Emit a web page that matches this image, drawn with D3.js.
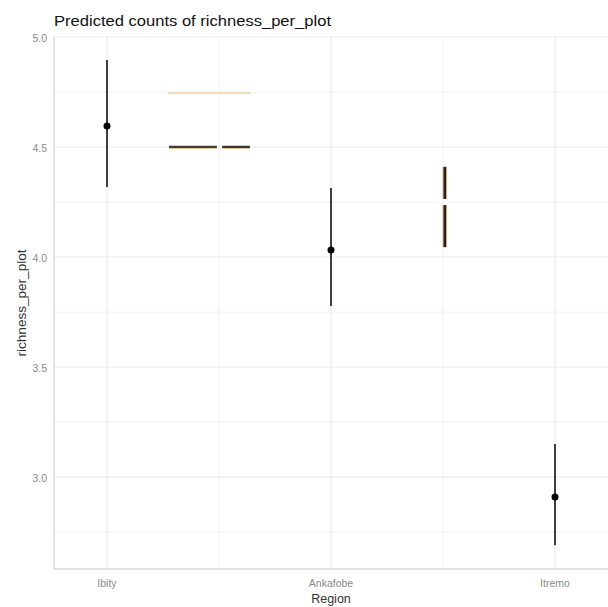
<!DOCTYPE html>
<html lang="en">
<head>
<meta charset="utf-8">
<script src="https://d3js.org/d3.v7.min.js"></script>
<style>
  body { margin: 0; background: #fff; }
  text { font-family: "Liberation Sans", Arial, sans-serif; }
</style>
</head>
<body>
<script>
// predicted values per region
var regions = ["Ibity", "Ankafobe", "Itremo"];
var predicted = [4.595, 4.032, 2.909];
var lower = [4.318, 3.777, 2.69];
var upper = [4.895, 4.314, 3.15];

// stray key glyphs (x in category units, Ibity = 0)
var hBars = [[0.277, 0.49, 4.5], [0.514, 0.638, 4.5]];
var hLine = [[0.272, 0.643, 4.745]];
var vBars = [[1.508, 4.41, 4.264], [1.508, 4.236, 4.045]];

var yTicks = [3.0, 3.5, 4.0, 4.5, 5.0];
var yMinor = [2.75, 3.25, 3.75, 4.25, 4.75];

var width = 608, height = 607;
// note: "top" is taken by window.top, so panel edges get their own names
var panelLeft = 54, panelTop = 37, panelBottom = 569, panelRight = 608;

var svg = d3.select("body").append("svg")
  .attr("width", width)
  .attr("height", height);

// continuous x so the glyphs can sit between categories
var x = d3.scaleLinear().domain([0, 1]).range([107, 331]);
var y = d3.scaleLinear().domain([2.582, 5.0]).range([panelBottom, panelTop]);

var grid = svg.append("g");

// minor grid
grid.selectAll("line.ym").data(yMinor).enter().append("line")
  .attr("x1", panelLeft).attr("x2", panelRight)
  .attr("y1", function(d) { return y(d); }).attr("y2", function(d) { return y(d); })
  .attr("stroke", "#f2f2f2").attr("stroke-width", 1);
grid.selectAll("line.xm").data([0.5, 1.5]).enter().append("line")
  .attr("x1", function(d) { return x(d); }).attr("x2", function(d) { return x(d); })
  .attr("y1", panelTop).attr("y2", panelBottom)
  .attr("stroke", "#f2f2f2").attr("stroke-width", 1);

// major grid
grid.selectAll("line.y").data(yTicks).enter().append("line")
  .attr("x1", panelLeft).attr("x2", panelRight)
  .attr("y1", function(d) { return y(d); }).attr("y2", function(d) { return y(d); })
  .attr("stroke", "#ebebeb").attr("stroke-width", 1.2);
grid.selectAll("line.x").data(regions).enter().append("line")
  .attr("x1", function(d, i) { return x(i); }).attr("x2", function(d, i) { return x(i); })
  .attr("y1", panelTop).attr("y2", panelBottom)
  .attr("stroke", "#ebebeb").attr("stroke-width", 1.2);

// axis lines
svg.append("line").attr("x1", panelLeft).attr("x2", panelLeft).attr("y1", panelTop).attr("y2", panelBottom)
  .attr("stroke", "#c8c8c8").attr("stroke-width", 1);
svg.append("line").attr("x1", panelLeft).attr("x2", panelRight).attr("y1", panelBottom).attr("y2", panelBottom)
  .attr("stroke", "#c8c8c8").attr("stroke-width", 1);

// stray glyphs
svg.selectAll("line.hl").data(hLine).enter().append("line")
  .attr("x1", function(d) { return x(d[0]); }).attr("x2", function(d) { return x(d[1]); })
  .attr("y1", function(d) { return y(d[2]); }).attr("y2", function(d) { return y(d[2]); })
  .attr("stroke", "#f2cfa8").attr("stroke-width", 1.5);
svg.selectAll("line.hbo").data(hBars).enter().append("line")
  .attr("x1", function(d) { return x(d[0]); }).attr("x2", function(d) { return x(d[1]); })
  .attr("y1", function(d) { return y(d[2]); }).attr("y2", function(d) { return y(d[2]); })
  .attr("stroke", "#e8c79a").attr("stroke-width", 4);
svg.selectAll("line.hb").data(hBars).enter().append("line")
  .attr("x1", function(d) { return x(d[0]); }).attr("x2", function(d) { return x(d[1]); })
  .attr("y1", function(d) { return y(d[2]); }).attr("y2", function(d) { return y(d[2]); })
  .attr("stroke", "#111").attr("stroke-width", 1.6);
svg.selectAll("line.vbo").data(vBars).enter().append("line")
  .attr("x1", function(d) { return x(d[0]); }).attr("x2", function(d) { return x(d[0]); })
  .attr("y1", function(d) { return y(d[1]); }).attr("y2", function(d) { return y(d[2]); })
  .attr("stroke", "#d9a87c").attr("stroke-width", 4.5);
svg.selectAll("line.vb").data(vBars).enter().append("line")
  .attr("x1", function(d) { return x(d[0]); }).attr("x2", function(d) { return x(d[0]); })
  .attr("y1", function(d) { return y(d[1]); }).attr("y2", function(d) { return y(d[2]); })
  .attr("stroke", "#222").attr("stroke-width", 2.4);

// error bars and points
svg.selectAll("line.err").data(regions).enter().append("line")
  .attr("x1", function(d, i) { return x(i); }).attr("x2", function(d, i) { return x(i); })
  .attr("y1", function(d, i) { return y(lower[i]); }).attr("y2", function(d, i) { return y(upper[i]); })
  .attr("stroke", "#000").attr("stroke-width", 1.5);
svg.selectAll("circle").data(regions).enter().append("circle")
  .attr("cx", function(d, i) { return x(i); })
  .attr("cy", function(d, i) { return y(predicted[i]); })
  .attr("r", 3.5)
  .attr("fill", "#000");

// tick labels
svg.selectAll("text.yt").data(yTicks).enter().append("text")
  .attr("x", 47).attr("y", function(d) { return y(d) + 4.5; })
  .attr("text-anchor", "end")
  .attr("font-size", 10.5).attr("fill", "#8a8a8a")
  .text(function(d) { return d.toFixed(1); });
svg.selectAll("text.xt").data(regions).enter().append("text")
  .attr("x", function(d, i) { return x(i); }).attr("y", 587)
  .attr("text-anchor", "middle")
  .attr("font-size", 10.5).attr("fill", "#8a8a8a")
  .text(function(d) { return d; });

// titles
svg.append("text").attr("x", 54).attr("y", 26)
  .attr("font-size", 15.5).attr("fill", "#111")
  .attr("textLength", 277).attr("lengthAdjust", "spacingAndGlyphs")
  .text("Predicted counts of richness_per_plot");
svg.append("text").attr("x", 331).attr("y", 603)
  .attr("text-anchor", "middle")
  .attr("font-size", 12.5).attr("fill", "#333")
  .text("Region");
svg.append("text")
  .attr("transform", "translate(26," + ((panelTop + panelBottom) / 2) + ") rotate(-90)")
  .attr("text-anchor", "middle")
  .attr("font-size", 12.5).attr("fill", "#333")
  .attr("textLength", 107).attr("lengthAdjust", "spacingAndGlyphs")
  .text("richness_per_plot");
</script>
</body>
</html>
